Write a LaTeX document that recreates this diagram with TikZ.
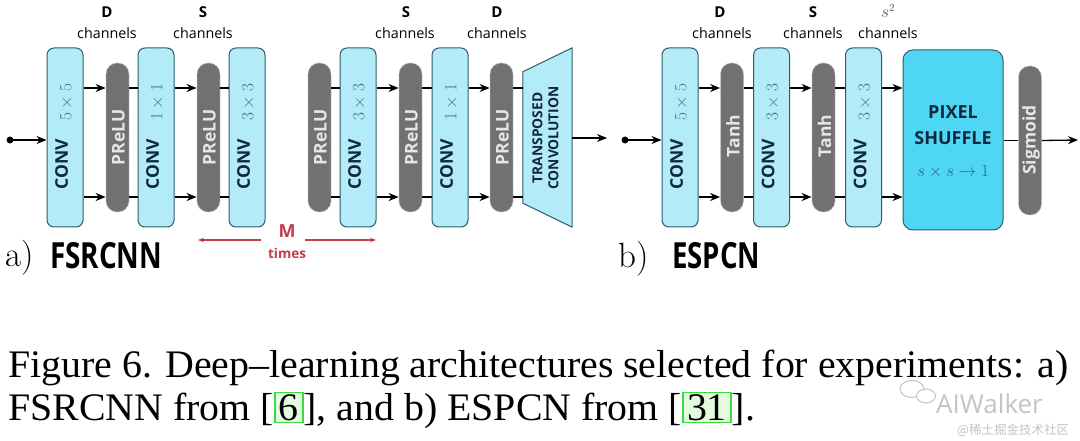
\documentclass[tikz,border=0pt]{standalone}
\usepackage{fontspec}
\usepackage{graphicx}
\newfontfamily\osans{Open Sans}
\newfontfamily\capfont{Liberation Serif}
\newfontfamily\cjkfont{Noto Sans CJK SC}
\usetikzlibrary{arrows.meta}
\definecolor{convfill}{HTML}{B3EBF9}
\definecolor{convdraw}{HTML}{2E5E6B}
\definecolor{psfill}{HTML}{4FD6F4}
\definecolor{actfill}{HTML}{717171}
\definecolor{acttext}{HTML}{E6E6E6}
\definecolor{navy}{HTML}{10283C}
\definecolor{tealm}{HTML}{2F7E8E}
\definecolor{psmath}{HTML}{1B6C88}
\definecolor{mred}{HTML}{C43C45}
\definecolor{gbox}{HTML}{3BDC3B}
\definecolor{gfill}{HTML}{E4FBE0}
\definecolor{wm}{HTML}{C4C4C4}
\newcommand\convtxt[1]{\textbf{CONV}\hspace{18pt}\raisebox{-3.5pt}{\color{tealm}$#1$}}
\newcommand\gb[1]{{\setlength\fboxsep{1pt}\setlength\fboxrule{1.8pt}\fcolorbox{gbox}{gfill}{\hspace{2pt}#1\hspace{2pt}}}}
\begin{document}
\begin{tikzpicture}[x=1pt,y=-1pt,
  convbox/.style={draw=convdraw, fill=convfill, line width=1pt, rounded corners=7pt, minimum width=36pt, minimum height=179pt, inner sep=0pt},
  actbox/.style={draw=gray!45, densely dotted, fill=actfill, line width=0.8pt, rounded corners=11pt, minimum width=23pt, minimum height=149pt, inner sep=0pt},
  convlbl/.style={rotate=90, inner sep=0pt, font=\osans\fontsize{17.5}{17.5}\selectfont, text=navy},
  actlbl/.style={rotate=90, inner sep=0pt, font=\osans\bfseries\fontsize{17.5}{17.5}\selectfont, text=acttext},
  arr/.style={line width=1.3pt, -{Stealth[length=10pt,width=8pt]}},
  ln/.style={line width=1.3pt},
  rarr/.style={line width=1pt, draw=mred, -{Stealth[length=6pt,width=4.5pt]}},
  chd/.style={font=\osans\bfseries\fontsize{15}{15}\selectfont, inner sep=0pt},
  chn/.style={font=\osans\fontsize{14.3}{14.3}\selectfont, inner sep=0pt},
  dot/.style={circle, fill=black, inner sep=0pt, minimum size=7pt},
]
\useasboundingbox[fill=white] (0,0) rectangle (1080,441);
\coordinate (yt) at (0,88);
\coordinate (yb) at (0,197);

% ---------------- FSRCNN ----------------
\node[chd] (dA1) at (107,12) {D};  \node[chn] (cA1) at (107,33) {channels};
\node[chd] (dA2) at (203,12) {S};  \node[chn] (cA2) at (203,33) {channels};
\node[chd] (dA3) at (406,12) {S};  \node[chn] (cA3) at (405,33) {channels};
\node[chd] (dA4) at (497,12) {D};  \node[chn] (cA4) at (497,33) {channels};

\node[convbox] (c1) at (65,137.5) {};
\node[convlbl] (c1t) at (64,136.5) {\convtxt{5\times 5}};
\node[actbox] (p1) at (117.5,137.5) {};
\node[actlbl] (p1t) at (118.5,137.5) {PReLU};
\node[convbox] (c2) at (156,137.5) {};
\node[convlbl] (c2t) at (155,136.5) {\convtxt{1\times 1}};
\node[actbox] (p2) at (208.5,137.5) {};
\node[actlbl] (p2t) at (209.5,137.5) {PReLU};
\node[convbox] (c3) at (247,137.5) {};
\node[convlbl] (c3t) at (246,136.5) {\convtxt{3\times 3}};

\node[actbox] (p3) at (319.5,137.5) {};
\node[actlbl] (p3t) at (320.5,137.5) {PReLU};
\node[convbox] (c4) at (358,137.5) {};
\node[convlbl] (c4t) at (357,136.5) {\convtxt{3\times 3}};
\node[actbox] (p4) at (410.5,137.5) {};
\node[actlbl] (p4t) at (411.5,137.5) {PReLU};
\node[convbox] (c5) at (450,137.5) {};
\node[convlbl] (c5t) at (449,136.5) {\convtxt{1\times 1}};
\node[actbox] (p5) at (501.5,137.5) {};
\node[actlbl] (p5t) at (502.5,137.5) {PReLU};

\node[inner sep=0pt, minimum width=49pt, minimum height=179pt] (tr) at (547.5,137.5) {};
\draw[draw=convdraw, fill=convfill, line width=1pt, line join=round]
  (tr.north east) -- (tr.south east) -- ([yshift=24pt]tr.south west) -- ([yshift=-24pt]tr.north west) -- cycle;
\node[rotate=90, align=center, inner sep=0pt, text=navy, font=\osans\bfseries\fontsize{13.8}{16}\selectfont] (trt) at (545.5,138) {TRANSPOSED\\CONVOLUTION};

\node[dot] (inA) at (10,140) {};
\draw[arr] (inA.center) -- (c1.west |- inA);
\foreach \a/\b in {c1/p1, c2/p2, c4/p4, c5/p5} {
  \draw[arr] (\a.east |- yt) -- (\b.west |- yt);
  \draw[arr] (\a.east |- yb) -- (\b.west |- yb);
}
\foreach \a/\b in {p1/c2, p2/c3, p3/c4, p4/c5, p5/tr} {
  \draw[ln] (\a.east |- yt) -- (\b.west |- yt);
  \draw[ln] (\a.east |- yb) -- (\b.west |- yb);
}
\coordinate (outA) at (607,138);
\draw[arr] (tr.east |- outA) -- (outA);

% M times
\node[font=\osans\bfseries\fontsize{18}{18}\selectfont, text=mred, inner sep=0pt] (mM) at (287,231) {M};
\node[font=\osans\bfseries\fontsize{13.5}{13.5}\selectfont, text=mred, inner sep=0pt] (mt) at (287,253) {times};
\coordinate (mL) at (198,240); \coordinate (mLe) at (261,240);
\coordinate (mR) at (305,240); \coordinate (mRe) at (376,240);
\draw[rarr] (mLe) -- (mL);
\draw[rarr] (mR) -- (mRe);

\node[anchor=base west, inner sep=0pt, font=\fontsize{35}{35}\selectfont] (la) at (5,266) {a)};
\node[anchor=base west, inner sep=0pt] (lat) at (50,268) {\resizebox{112pt}{\height}{\osans\bfseries\fontsize{36}{36}\selectfont FSRCNN}};

% ---------------- ESPCN ----------------
\node[chd] (dB1) at (720,12) {D};  \node[chn] (cB1) at (722,33) {channels};
\node[chd] (dB2) at (813,12) {S};  \node[chn] (cB2) at (813,33) {channels};
\node[inner sep=0pt, text=black!65, font=\fontsize{16}{16}\selectfont] (dB3) at (888,11) {$s^2$};
\node[chn] (cB3) at (888,33) {channels};

\node[convbox] (e1) at (680,137.5) {};
\node[convlbl] (e1t) at (679,136.5) {\convtxt{5\times 5}};
\node[actbox] (t1) at (732,137.5) {};
\node[actlbl] (t1t) at (733,136) {Tanh};
\node[convbox] (e2) at (771.5,137.5) {};
\node[convlbl] (e2t) at (770.5,136.5) {\convtxt{3\times 3}};
\node[actbox] (t2) at (823.5,137.5) {};
\node[actlbl] (t2t) at (824.5,136) {Tanh};
\node[convbox] (e3) at (863.5,137.5) {};
\node[convlbl] (e3t) at (862.5,136.5) {\convtxt{3\times 3}};
\node[draw=convdraw, fill=psfill, line width=1pt, rounded corners=10pt, minimum width=100pt, minimum height=180pt, inner sep=0pt] (ps) at (953,140) {};
\node[inner sep=0pt, align=center, text=navy, font=\osans\bfseries\fontsize{18}{26}\selectfont] (pst) at (953,125) {PIXEL\\SHUFFLE};
\node[inner sep=0pt, text=psmath, font=\fontsize{19}{19}\selectfont] (psm) at (953,172) {$s\times s\rightarrow 1$};
\node[actbox] (sg) at (1030,140.5) {};
\node[actlbl] (sgt) at (1031,140) {Sigmoid};

\node[dot] (inB) at (625,140) {};
\draw[arr] (inB.center) -- (e1.west |- inB);
\foreach \a/\b in {e1/t1, e2/t2, e3/ps} {
  \draw[arr] (\a.east |- yt) -- (\b.west |- yt);
  \draw[arr] (\a.east |- yb) -- (\b.west |- yb);
}
\foreach \a/\b in {t1/e2, t2/e3} {
  \draw[ln] (\a.east |- yt) -- (\b.west |- yt);
  \draw[ln] (\a.east |- yb) -- (\b.west |- yb);
}
\draw[ln] (ps.east |- sg) -- (sg.west);
\coordinate (outB) at (1078,140);
\draw[arr] (sg.east) -- (outB);

\node[anchor=base west, inner sep=0pt, font=\fontsize{35}{35}\selectfont] (lb) at (618,267) {b)};
\node[anchor=base west, inner sep=0pt] (lbt) at (672,268) {\resizebox{88pt}{\height}{\osans\bfseries\fontsize{36}{36}\selectfont ESPCN}};

% ---------------- caption ----------------
\node[anchor=base west, inner sep=0pt] (cap) at (8,377) {\resizebox{1060pt}{\height}{\capfont\fontsize{39}{43.3}\selectfont\begin{tabular}[t]{@{}l@{}}Figure 6. Deep–learning architectures selected for experiments: a)\\FSRCNN from [\gb{6}], and b) ESPCN from [\gb{31}].\end{tabular}}};

% watermark
\draw[wm, line width=1pt] (912,389) ellipse (12pt and 8.5pt);
\draw[wm, line width=1pt, fill=white] (926,396) ellipse (9.5pt and 7pt);
\node[anchor=base west, inner sep=0pt, text=wm, font=\osans\fontsize{26}{26}\selectfont] (wm1) at (936,413) {AIWalker};
\node[anchor=base west, inner sep=0pt, text=wm, font=\cjkfont\fontsize{12.5}{12.5}\selectfont] (wm2) at (957,434) {@稀土掘金技术社区};
\end{tikzpicture}
\end{document}
